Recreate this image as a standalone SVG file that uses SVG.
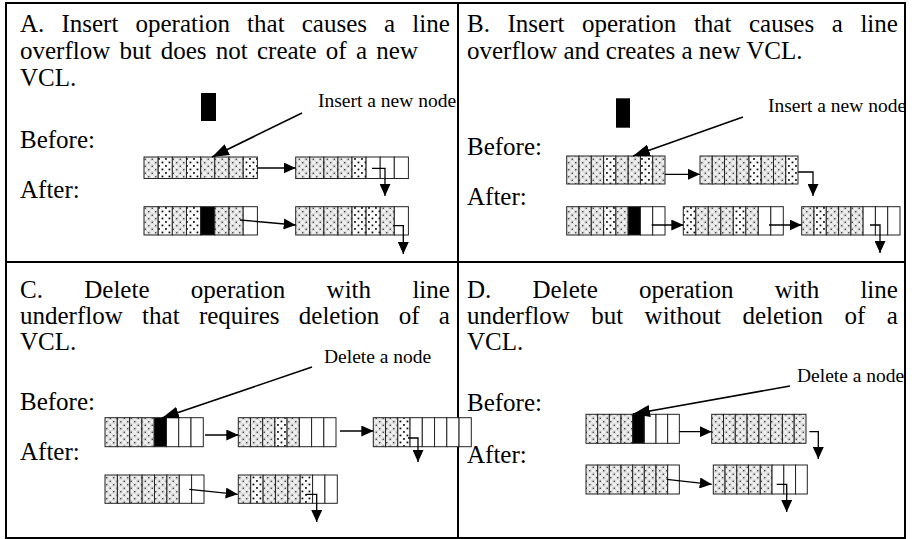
<svg xmlns="http://www.w3.org/2000/svg" width="917" height="539" viewBox="0 0 917 539">
<style>
  .t { font-family: "Liberation Serif", "Times New Roman", serif; font-size: 25px; fill: #000; }
  .lbl { font-family: "Liberation Serif", "Times New Roman", serif; font-size: 19.5px; fill: #000; }
  .frame { fill: none; stroke: #000; stroke-width: 2; }
  rect.cell { stroke: #222; stroke-width: 1; }
  .c { fill: url(#pc); }
  .s { fill: url(#ps); }
  .k { fill: #000; }
  .e { fill: #fff; }
  .conn { fill: none; stroke: #000; stroke-width: 1.3; marker-end: url(#ah); }
  .lead { fill: none; stroke: #000; stroke-width: 1.6; marker-end: url(#lh); }
</style>
<defs>
  <!-- stippled cell fill with dark centre dots -->
  <pattern id="pc" width="7" height="7" patternUnits="userSpaceOnUse">
    <rect width="7" height="7" fill="#efefef"/>
    <circle cx="1.75" cy="1.75" r="1.7" fill="none" stroke="#b8b8b8" stroke-width="0.5"/>
    <circle cx="5.25" cy="5.25" r="1.7" fill="none" stroke="#b8b8b8" stroke-width="0.5"/>
    <circle cx="1.75" cy="1.75" r="0.8" fill="#333"/>
    <circle cx="5.25" cy="5.25" r="0.8" fill="#333"/>
  </pattern>
  <!-- white cell fill with small black squares -->
  <pattern id="ps" width="7" height="7" patternUnits="userSpaceOnUse">
    <rect width="7" height="7" fill="#fafafa"/>
    <rect x="0.6" y="0.6" width="1.7" height="1.7" fill="#000"/>
    <rect x="4.1" y="4.1" width="1.7" height="1.7" fill="#000"/>
  </pattern>
  <marker id="ah" viewBox="0 0 12 11" refX="12" refY="5.5" markerWidth="12" markerHeight="11" markerUnits="userSpaceOnUse" orient="auto">
    <path d="M0,0 L12,5.5 L0,11 Z" fill="#000"/>
  </marker>
  <marker id="lh" viewBox="0 0 17 12" refX="17" refY="6" markerWidth="17" markerHeight="12" markerUnits="userSpaceOnUse" orient="auto">
    <path d="M0,0 L17,6 L0,12 Z" fill="#000"/>
  </marker>
</defs>

<rect width="917" height="539" fill="#fff"/>

<!-- table frame -->
<g id="frame">
  <rect class="frame" x="6" y="3" width="899" height="535"/>
  <line class="frame" x1="458" y1="3" x2="458" y2="538"/>
  <line class="frame" x1="6" y1="262" x2="905" y2="262"/>
</g>

<!-- panel A -->
<g id="panelA">
  <text class="t" x="20" y="32" word-spacing="10.9">A. Insert operation that causes a line</text>
  <text class="t" x="20" y="59" word-spacing="3">overflow but does not create of a new</text>
  <text class="t" x="20" y="86">VCL.</text>
  <text class="t" x="20" y="148">Before:</text>
  <text class="t" x="20" y="198">After:</text>
  <text class="lbl" x="318" y="107">Insert a new node</text>
  <rect id="A-new" x="201" y="93" width="15" height="28" fill="#000"/>
  <g id="A-before-1">
    <rect class="cell c" x="144" y="157" width="14.2" height="21.5"/>
    <rect class="cell s" x="158.2" y="157" width="14.2" height="21.5"/>
    <rect class="cell c" x="172.3" y="157" width="14.2" height="21.5"/>
    <rect class="cell s" x="186.5" y="157" width="14.2" height="21.5"/>
    <rect class="cell c" x="200.7" y="157" width="14.2" height="21.5"/>
    <rect class="cell c" x="214.8" y="157" width="14.2" height="21.5"/>
    <rect class="cell c" x="229" y="157" width="14.2" height="21.5"/>
    <rect class="cell s" x="243.2" y="157" width="14.2" height="21.5"/>
  </g>
  <g id="A-before-2">
    <rect class="cell c" x="295.7" y="157" width="14.1" height="21.5"/>
    <rect class="cell c" x="309.8" y="157" width="14.1" height="21.5"/>
    <rect class="cell c" x="323.9" y="157" width="14.1" height="21.5"/>
    <rect class="cell c" x="337.9" y="157" width="14.1" height="21.5"/>
    <rect class="cell s" x="352" y="157" width="14.1" height="21.5"/>
    <rect class="cell e" x="366.1" y="157" width="14.1" height="21.5"/>
    <rect class="cell e" x="380.2" y="157" width="14.1" height="21.5"/>
    <rect class="cell e" x="394.3" y="157" width="14.1" height="21.5"/>
  </g>
  <g id="A-after-1">
    <rect class="cell c" x="144" y="206.7" width="14.2" height="28.3"/>
    <rect class="cell s" x="158.2" y="206.7" width="14.2" height="28.3"/>
    <rect class="cell c" x="172.3" y="206.7" width="14.2" height="28.3"/>
    <rect class="cell s" x="186.5" y="206.7" width="14.2" height="28.3"/>
    <rect class="cell k" x="200.7" y="206.7" width="14.2" height="28.3"/>
    <rect class="cell c" x="214.8" y="206.7" width="14.2" height="28.3"/>
    <rect class="cell c" x="229" y="206.7" width="14.2" height="28.3"/>
    <rect class="cell e" x="243.2" y="206.7" width="14.2" height="28.3"/>
  </g>
  <g id="A-after-2">
    <rect class="cell c" x="295.7" y="206.7" width="14.1" height="28.3"/>
    <rect class="cell c" x="309.8" y="206.7" width="14.1" height="28.3"/>
    <rect class="cell c" x="323.9" y="206.7" width="14.1" height="28.3"/>
    <rect class="cell c" x="337.9" y="206.7" width="14.1" height="28.3"/>
    <rect class="cell s" x="352" y="206.7" width="14.1" height="28.3"/>
    <rect class="cell s" x="366.1" y="206.7" width="14.1" height="28.3"/>
    <rect class="cell c" x="380.2" y="206.7" width="14.1" height="28.3"/>
    <rect class="cell e" x="394.3" y="206.7" width="14.1" height="28.3"/>
  </g>
</g>

<!-- panel B -->
<g id="panelB">
  <text class="t" x="467" y="32" word-spacing="11.3">B. Insert operation that causes a line</text>
  <text class="t" x="467" y="59">overflow and creates a new VCL.</text>
  <text class="t" x="467" y="155">Before:</text>
  <text class="t" x="467" y="205">After:</text>
  <text class="lbl" x="768" y="112">Insert a new node</text>
  <rect id="B-new" x="616" y="98.3" width="14" height="29.4" fill="#000"/>
  <g id="B-before-1">
    <rect class="cell c" x="566.7" y="156" width="12.3" height="28"/>
    <rect class="cell c" x="579" y="156" width="12.3" height="28"/>
    <rect class="cell c" x="591.3" y="156" width="12.3" height="28"/>
    <rect class="cell s" x="603.6" y="156" width="12.3" height="28"/>
    <rect class="cell c" x="615.9" y="156" width="12.3" height="28"/>
    <rect class="cell c" x="628.2" y="156" width="12.3" height="28"/>
    <rect class="cell s" x="640.4" y="156" width="12.3" height="28"/>
    <rect class="cell c" x="652.7" y="156" width="12.3" height="28"/>
  </g>
  <g id="B-before-2">
    <rect class="cell c" x="700" y="156" width="12.25" height="28"/>
    <rect class="cell c" x="712.25" y="156" width="12.25" height="28"/>
    <rect class="cell c" x="724.5" y="156" width="12.25" height="28"/>
    <rect class="cell c" x="736.75" y="156" width="12.25" height="28"/>
    <rect class="cell s" x="749" y="156" width="12.25" height="28"/>
    <rect class="cell c" x="761.25" y="156" width="12.25" height="28"/>
    <rect class="cell c" x="773.5" y="156" width="12.25" height="28"/>
    <rect class="cell s" x="785.75" y="156" width="12.25" height="28"/>
  </g>
  <g id="B-after-1">
    <rect class="cell c" x="566.7" y="206.7" width="12.3" height="28.3"/>
    <rect class="cell c" x="579" y="206.7" width="12.3" height="28.3"/>
    <rect class="cell c" x="591.3" y="206.7" width="12.3" height="28.3"/>
    <rect class="cell s" x="603.6" y="206.7" width="12.3" height="28.3"/>
    <rect class="cell c" x="615.9" y="206.7" width="12.3" height="28.3"/>
    <rect class="cell k" x="628.2" y="206.7" width="12.3" height="28.3"/>
    <rect class="cell e" x="640.4" y="206.7" width="12.3" height="28.3"/>
    <rect class="cell e" x="652.7" y="206.7" width="12.3" height="28.3"/>
  </g>
  <g id="B-after-2">
    <rect class="cell s" x="683.3" y="206.7" width="12.5" height="28.3"/>
    <rect class="cell c" x="695.8" y="206.7" width="12.5" height="28.3"/>
    <rect class="cell c" x="708.3" y="206.7" width="12.5" height="28.3"/>
    <rect class="cell c" x="720.8" y="206.7" width="12.5" height="28.3"/>
    <rect class="cell s" x="733.3" y="206.7" width="12.5" height="28.3"/>
    <rect class="cell c" x="745.8" y="206.7" width="12.5" height="28.3"/>
    <rect class="cell e" x="758.3" y="206.7" width="12.5" height="28.3"/>
    <rect class="cell e" x="770.8" y="206.7" width="12.5" height="28.3"/>
  </g>
  <g id="B-after-3">
    <rect class="cell c" x="801.7" y="206.7" width="12.3" height="28.3"/>
    <rect class="cell s" x="814" y="206.7" width="12.3" height="28.3"/>
    <rect class="cell c" x="826.3" y="206.7" width="12.3" height="28.3"/>
    <rect class="cell c" x="838.6" y="206.7" width="12.3" height="28.3"/>
    <rect class="cell c" x="850.9" y="206.7" width="12.3" height="28.3"/>
    <rect class="cell e" x="863.1" y="206.7" width="12.3" height="28.3"/>
    <rect class="cell e" x="875.4" y="206.7" width="12.3" height="28.3"/>
    <rect class="cell e" x="887.7" y="206.7" width="12.3" height="28.3"/>
  </g>
</g>

<!-- panel C -->
<g id="panelC">
  <text class="t" x="20" y="298" word-spacing="35.1">C. Delete operation with line</text>
  <text class="t" x="20" y="324" word-spacing="13.1">underflow that requires deletion of a</text>
  <text class="t" x="20" y="350">VCL.</text>
  <text class="t" x="20" y="410">Before:</text>
  <text class="t" x="20" y="460">After:</text>
  <text class="lbl" x="324" y="363">Delete a node</text>
  <g id="C-before-1">
    <rect class="cell c" x="105" y="417.7" width="12.3" height="29"/>
    <rect class="cell c" x="117.3" y="417.7" width="12.3" height="29"/>
    <rect class="cell c" x="129.6" y="417.7" width="12.3" height="29"/>
    <rect class="cell c" x="141.9" y="417.7" width="12.3" height="29"/>
    <rect class="cell k" x="154.2" y="417.7" width="12.3" height="29"/>
    <rect class="cell e" x="166.5" y="417.7" width="12.3" height="29"/>
    <rect class="cell e" x="178.7" y="417.7" width="12.3" height="29"/>
    <rect class="cell e" x="191" y="417.7" width="12.3" height="29"/>
  </g>
  <g id="C-before-2">
    <rect class="cell c" x="238.3" y="417.7" width="12.2" height="29"/>
    <rect class="cell c" x="250.5" y="417.7" width="12.2" height="29"/>
    <rect class="cell c" x="262.7" y="417.7" width="12.2" height="29"/>
    <rect class="cell s" x="274.9" y="417.7" width="12.2" height="29"/>
    <rect class="cell c" x="287.1" y="417.7" width="12.2" height="29"/>
    <rect class="cell e" x="299.4" y="417.7" width="12.2" height="29"/>
    <rect class="cell e" x="311.6" y="417.7" width="12.2" height="29"/>
    <rect class="cell e" x="323.8" y="417.7" width="12.2" height="29"/>
  </g>
  <g id="C-before-3">
    <rect class="cell c" x="373.3" y="417.7" width="12.25" height="29"/>
    <rect class="cell c" x="385.55" y="417.7" width="12.25" height="29"/>
    <rect class="cell s" x="397.8" y="417.7" width="12.25" height="29"/>
    <rect class="cell e" x="410.05" y="417.7" width="12.25" height="29"/>
    <rect class="cell e" x="422.3" y="417.7" width="12.25" height="29"/>
    <rect class="cell e" x="434.55" y="417.7" width="12.25" height="29"/>
    <rect class="cell e" x="446.8" y="417.7" width="12.25" height="29"/>
    <rect class="cell e" x="459.05" y="417.7" width="12.25" height="29"/>
  </g>
  <g id="C-after-1">
    <rect class="cell c" x="105" y="475" width="12.4" height="28.3"/>
    <rect class="cell c" x="117.4" y="475" width="12.4" height="28.3"/>
    <rect class="cell c" x="129.8" y="475" width="12.4" height="28.3"/>
    <rect class="cell c" x="142.1" y="475" width="12.4" height="28.3"/>
    <rect class="cell c" x="154.5" y="475" width="12.4" height="28.3"/>
    <rect class="cell c" x="166.9" y="475" width="12.4" height="28.3"/>
    <rect class="cell e" x="179.3" y="475" width="12.4" height="28.3"/>
    <rect class="cell e" x="191.6" y="475" width="12.4" height="28.3"/>
  </g>
  <g id="C-after-2">
    <rect class="cell c" x="238.3" y="475" width="12.4" height="28.3"/>
    <rect class="cell s" x="250.7" y="475" width="12.4" height="28.3"/>
    <rect class="cell c" x="263.1" y="475" width="12.4" height="28.3"/>
    <rect class="cell c" x="275.4" y="475" width="12.4" height="28.3"/>
    <rect class="cell c" x="287.8" y="475" width="12.4" height="28.3"/>
    <rect class="cell s" x="300.2" y="475" width="12.4" height="28.3"/>
    <rect class="cell e" x="312.6" y="475" width="12.4" height="28.3"/>
    <rect class="cell e" x="324.9" y="475" width="12.4" height="28.3"/>
  </g>
</g>

<!-- panel D -->
<g id="panelD">
  <text class="t" x="467" y="298" word-spacing="35">D. Delete operation with line</text>
  <text class="t" x="467" y="324" word-spacing="15.2">underflow but without deletion of a</text>
  <text class="t" x="467" y="350">VCL.</text>
  <text class="t" x="467" y="411">Before:</text>
  <text class="t" x="467" y="463">After:</text>
  <text class="lbl" x="797" y="382">Delete a node</text>
  <g id="D-before-1">
    <rect class="cell c" x="586" y="414.3" width="11.67" height="29"/>
    <rect class="cell c" x="597.67" y="414.3" width="11.67" height="29"/>
    <rect class="cell c" x="609.33" y="414.3" width="11.67" height="29"/>
    <rect class="cell c" x="621" y="414.3" width="11.67" height="29"/>
    <rect class="cell k" x="632.67" y="414.3" width="11.67" height="29"/>
    <rect class="cell e" x="644.33" y="414.3" width="11.67" height="29"/>
    <rect class="cell e" x="656" y="414.3" width="11.67" height="29"/>
    <rect class="cell e" x="667.67" y="414.3" width="11.67" height="29"/>
  </g>
  <g id="D-before-2">
    <rect class="cell c" x="711.7" y="414.3" width="11.8" height="29"/>
    <rect class="cell c" x="723.5" y="414.3" width="11.8" height="29"/>
    <rect class="cell c" x="735.3" y="414.3" width="11.8" height="29"/>
    <rect class="cell c" x="747.1" y="414.3" width="11.8" height="29"/>
    <rect class="cell c" x="758.9" y="414.3" width="11.8" height="29"/>
    <rect class="cell c" x="770.6" y="414.3" width="11.8" height="29"/>
    <rect class="cell c" x="782.4" y="414.3" width="11.8" height="29"/>
    <rect class="cell c" x="794.2" y="414.3" width="11.8" height="29"/>
  </g>
  <g id="D-after-1">
    <rect class="cell c" x="586" y="465" width="11.67" height="29"/>
    <rect class="cell c" x="597.67" y="465" width="11.67" height="29"/>
    <rect class="cell c" x="609.33" y="465" width="11.67" height="29"/>
    <rect class="cell c" x="621" y="465" width="11.67" height="29"/>
    <rect class="cell c" x="632.67" y="465" width="11.67" height="29"/>
    <rect class="cell c" x="644.33" y="465" width="11.67" height="29"/>
    <rect class="cell c" x="656" y="465" width="11.67" height="29"/>
    <rect class="cell e" x="667.67" y="465" width="11.67" height="29"/>
  </g>
  <g id="D-after-2">
    <rect class="cell c" x="713.3" y="465" width="11.75" height="29"/>
    <rect class="cell c" x="725.05" y="465" width="11.75" height="29"/>
    <rect class="cell c" x="736.8" y="465" width="11.75" height="29"/>
    <rect class="cell c" x="748.55" y="465" width="11.75" height="29"/>
    <rect class="cell c" x="760.3" y="465" width="11.75" height="29"/>
    <rect class="cell e" x="772.05" y="465" width="11.75" height="29"/>
    <rect class="cell e" x="783.8" y="465" width="11.75" height="29"/>
    <rect class="cell e" x="795.55" y="465" width="11.75" height="29"/>
  </g>
</g>

<!-- connectors: label leaders and list links -->
<g id="connectors">
  <path class="lead" d="M302,113 L212,157"/>
  <path class="lead" d="M743,117 L633,156"/>
  <path class="lead" d="M312,367 L162,418"/>
  <path class="lead" d="M790,386 L633,414"/>

  <path class="conn" d="M257.4,168 L295.7,168"/>
  <path class="conn" d="M372,168.3 L385,168.3 L385,196"/>
  <path class="conn" d="M240,220 L295.7,225"/>
  <path class="conn" d="M393.3,225.7 L403.3,225.7 L403.3,254"/>

  <path class="conn" d="M665,174.3 L700,174.3"/>
  <path class="conn" d="M798,172 L813,172 L813,196"/>
  <path class="conn" d="M651.7,225 L683.3,225"/>
  <path class="conn" d="M769,225 L801.7,225"/>
  <path class="conn" d="M870,225 L880,225 L880,253"/>

  <path class="conn" d="M205,435 L238.3,435"/>
  <path class="conn" d="M340,431 L373.3,431"/>
  <path class="conn" d="M408,438 L418,438 L418,462"/>
  <path class="conn" d="M189.3,489.3 L237.7,494.3"/>
  <path class="conn" d="M306,494.3 L316.7,494.3 L316.7,522"/>

  <path class="conn" d="M679.3,431.7 L711.7,431.7"/>
  <path class="conn" d="M809.3,431.7 L818.3,431.7 L818.3,459"/>
  <path class="conn" d="M666.7,479.3 L711.7,484.3"/>
  <path class="conn" d="M776.7,484.3 L786.7,484.3 L786.7,512"/>
</g>
</svg>
